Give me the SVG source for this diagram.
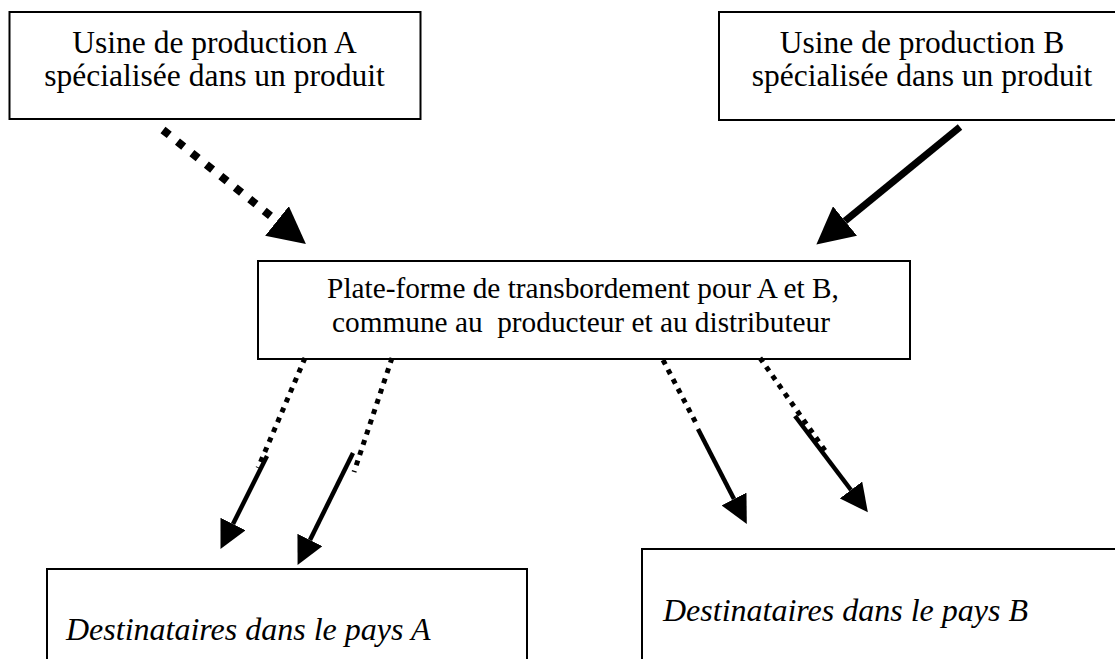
<svg xmlns="http://www.w3.org/2000/svg" width="1115" height="659" viewBox="0 0 1115 659">
  <style>
    .box { fill: #ffffff; stroke: #000000; stroke-width: 2; }
    .t { font-family: "Liberation Serif", "Times New Roman", serif; fill: #000000; }
    .top { font-size: 31.5px; text-anchor: middle; }
    .mid { font-size: 29.3px; text-anchor: middle; white-space: pre; }
    .dest { font-size: 32px; font-style: italic; }
    .bigdot { fill: none; stroke: #000; stroke-width: 8; stroke-dasharray: 8 10.5; }
    .bigsolid { fill: none; stroke: #000; stroke-width: 7; }
    .smalldot { fill: none; stroke: #000; stroke-width: 5; stroke-dasharray: 5 5.8; }
    .smallsolid { fill: none; stroke: #000; stroke-width: 4.5; }
  </style>
  <defs>
    <marker id="bigHead" markerUnits="userSpaceOnUse" markerWidth="37" markerHeight="38" refX="0" refY="19" orient="auto">
      <path d="M0,0 L37,19 L0,38 z" fill="#000"/>
    </marker>
    <marker id="smallHead" markerUnits="userSpaceOnUse" markerWidth="28" markerHeight="28" refX="0" refY="14" orient="auto">
      <path d="M0,0 L28,14 L0,28 z" fill="#000"/>
    </marker>
  </defs>
  <rect width="1115" height="659" fill="#ffffff"/>

  <g id="usine-a">
    <rect class="box" x="9.5" y="12" width="411" height="107"/>
    <text class="t top" x="214.5" y="53">Usine de production A</text>
    <text class="t top" x="214.5" y="86">spécialisée dans un produit</text>
  </g>

  <g id="usine-b">
    <rect class="box" x="719" y="12" width="410" height="108"/>
    <text class="t top" x="922" y="53">Usine de production B</text>
    <text class="t top" x="922" y="86">spécialisée dans un produit</text>
  </g>

  <g id="plateforme">
    <rect class="box" x="258" y="261" width="652" height="98"/>
    <text class="t mid" x="583" y="298">Plate-forme de transbordement pour A et B,</text>
    <text class="t mid" x="581" y="332">commune au  producteur et au distributeur</text>
  </g>

  <g id="dest-a">
    <rect class="box" x="47" y="569" width="480" height="120"/>
    <text class="t dest" x="66" y="640">Destinataires dans le pays A</text>
  </g>

  <g id="dest-b">
    <rect class="box" x="642" y="549" width="490" height="140"/>
    <text class="t dest" x="663" y="621">Destinataires dans le pays B</text>
  </g>

  <g id="connectors">
    <path class="bigdot" d="M163,130 L277,221" marker-end="url(#bigHead)"/>
    <path class="bigsolid" d="M960,127 L845,221" marker-end="url(#bigHead)"/>

    <path class="smalldot" d="M305,358 L258,468"/>
    <path class="smallsolid" d="M267,456 L233,524" marker-end="url(#smallHead)"/>

    <path class="smalldot" d="M392,358 L354,472"/>
    <path class="smallsolid" d="M353,453 L310,540" marker-end="url(#smallHead)"/>

    <path class="smalldot" d="M663,360 L698,427"/>
    <path class="smallsolid" d="M698,429 L734,499" marker-end="url(#smallHead)"/>

    <path class="smalldot" d="M760,358 L826,452"/>
    <path class="smallsolid" d="M795,416 L851,490" marker-end="url(#smallHead)"/>
  </g>
</svg>
